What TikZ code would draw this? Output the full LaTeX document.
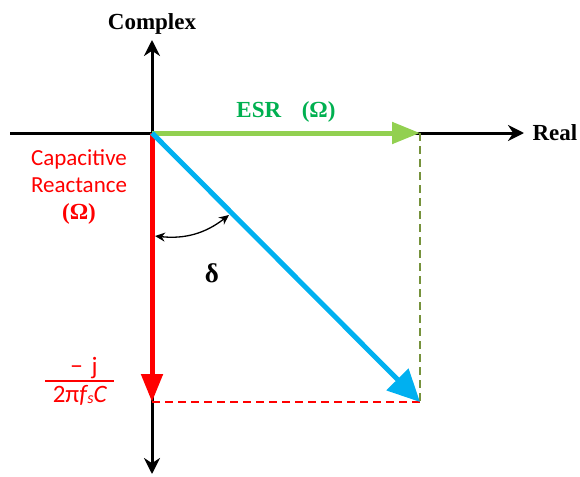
\documentclass[tikz,border=0pt]{standalone}
\usepackage{fontspec}
\setmainfont{Liberation Serif}
\newfontfamily\calib{Carlito}
\usetikzlibrary{arrows.meta}
\definecolor{esrgreen}{RGB}{146,208,80}
\definecolor{esrtext}{RGB}{0,176,80}
\definecolor{vecblue}{RGB}{0,176,240}
\definecolor{dashgreen}{RGB}{118,146,60}

\begin{document}
\begin{tikzpicture}[x=1pt,y=-1pt,
  axis/.style={line width=3pt,-{Stealth[length=16pt,width=16pt]}},
  phasor/.style={line width=5pt,-{Triangle[length=28pt,width=21pt]}},
  proj/.style={line width=1.3pt,dash pattern=on 8pt off 5pt},
  lbl/.style={font=\fontsize{23}{25}\selectfont\bfseries},
  redtxt/.style={text=red,font=\calib\fontsize{23}{27}\selectfont}]
\useasboundingbox (0,0) rectangle (580,476);
\coordinate (O) at (152,133);
\coordinate (W) at (10,133);
\coordinate (E) at (524,133);
\coordinate (N) at (152,40);
\coordinate (S) at (152,474);
\coordinate (R) at (420,133);
\coordinate (X) at (152,402);
\coordinate (Z) at (420,402);
% axes
\draw[axis] (W)--(E) node[right,lbl,inner sep=7pt]{Real};
\draw[axis] (X)--(N) node[above,lbl,inner sep=4pt]{Complex};
\draw[axis] (X)--(S);
% projections
\draw[proj,dashgreen] (R)--(Z);
\draw[proj,red] (X)--(Z);
% phasors
\draw[phasor,esrgreen] (O)--(R) node[midway,above=5pt,lbl,text=esrtext]{ESR\hspace{0.9em}(Ω)};
\draw[phasor,red] (O)--(X);
\draw[phasor,vecblue,-{Triangle[length=32pt,width=30pt]}] (O)--(Z);
% angle
\coordinate (d1) at (229,215);
\coordinate (d2) at (155,236);
\draw[line width=1.3pt,{Stealth[length=10pt,width=9pt]}-{Stealth[length=10pt,width=9pt]}] (d2) to[bend right=22] (d1);
\node[font=\fontsize{27}{27}\selectfont\bfseries] (delta) at (212,273) {δ};
% labels
\node[redtxt,align=center] (xc) at (79,187)
  {Capacitive\\Reactance\\{\rmfamily\bfseries(Ω)}};
\node[redtxt,font=\calib\fontsize{25}{27}\selectfont] (num) at (84,368) {−\hspace{0.35em}j};
\node[redtxt,font=\calib\fontsize{25}{27}\selectfont] (den) at (80,395) {2π\textit{f\kern0.5pt\raisebox{-0.15ex}{\fontsize{16}{16}\selectfont s}}\textit{C}};
\draw[red,line width=1.2pt] (45,381)--(114,381);
\end{tikzpicture}
\end{document}
